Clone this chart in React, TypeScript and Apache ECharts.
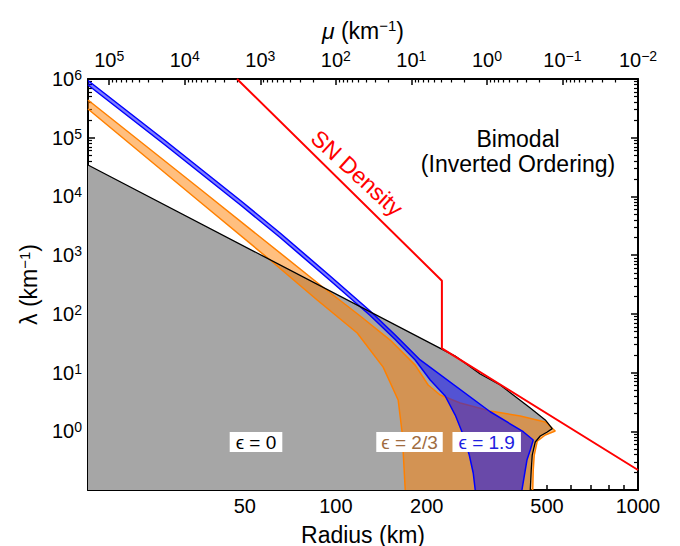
import React, { useEffect, useRef } from "react";
import * as echarts from "echarts";

// Axis ranges
const RADIUS_MIN = 15.13;
const RADIUS_MAX = 1000;
const LAMBDA_MIN = 0.1;
const LAMBDA_MAX = 1e6;
// top axis: mu = 1e10 / r^4 (km^-1), decreasing to the right
const MU_MIN = 0.01;
const MU_MAX = 1.908e5;

// Tick labels
const radiusLabels = [50, 100, 200, 500, 1000];
const radiusTicks = [20, 30, 40, 50, 60, 70, 80, 90, 100, 200, 300, 400, 500, 600, 700, 800, 900, 1000];
const lambdaLabels = [1, 10, 100, 1e3, 1e4, 1e5, 1e6];
const lambdaMajor = [0.1, 1, 10, 100, 1e3, 1e4, 1e5, 1e6];
const muLabels = [1e5, 1e4, 1e3, 100, 10, 1, 0.1, 0.01];

const minorOf = (decades: number[]) => decades.flatMap((d) => [2, 3, 4, 5, 6, 7, 8, 9].map((k) => k * d));
const lambdaMinor = minorOf([0.1, 1, 10, 100, 1e3, 1e4, 1e5]);
const muMinor = minorOf([0.01, 0.1, 1, 10, 100, 1e3, 1e4, 1e5]);

// Boundary of the epsilon = 0 region  [radius km, lambda km^-1]
const eps0Boundary: [number, number][] = [
  [15.13, 3.43e4], [248.4, 19.1], [300.5, 9.45], [349.9, 6.14], [386.5, 4.15],
  [440.0, 2.49], [493.3, 1.56], [520.3, 1.11], [500.9, 0.971], [474.8, 0.83],
  [457.1, 0.657], [446.7, 0.394], [443.3, 0.219], [440.0, 0.1],
];

// epsilon = 2/3 band: upper / outer edge and lower / inner edge
const eps23Upper: [number, number][] = [
  [15.13, 4.39e5], [35.54, 1.34e4], [88.75, 310], [120.4, 91.9], [151.3, 35.8],
  [183.1, 13.4], [202.1, 6.14], [221.5, 4.15], [258.0, 3.03], [324.3, 2.21],
  [407.7, 1.82], [493.3, 1.44], [532.4, 1.01], [493.3, 0.864], [464.1, 0.682],
  [453.6, 0.394], [450.1, 0.219], [448.4, 0.1],
];
const eps23Lower: [number, number][] = [
  [15.13, 3.08e5], [35.54, 8035], [60.61, 826], [86.74, 172], [117.7, 47.2],
  [143.4, 12.4], [160.8, 3.41], [165.8, 0.934], [169.7, 0.1],
];

// epsilon = 1.9 band
const eps19Upper: [number, number][] = [
  [15.13, 9.43e5], [27.22, 8.97e4], [48.58, 8356], [65.4, 2382], [95.75, 441],
  [129.9, 111.8], [157.2, 43.6], [190.2, 16.4], [324.3, 2.15], [417.1, 0.983],
  [450.1, 0.71], [440.0, 0.48], [429.0, 0.324], [413.0, 0.1],
];
const eps19Lower: [number, number][] = [
  [15.13, 7.9e5], [27.22, 7.51e4], [48.58, 7003], [65.4, 1997], [95.75, 369.8],
  [129.9, 93.7], [157.2, 36.5], [183.1, 16.4], [205.3, 7.46], [230.1, 3.99],
  [248.4, 1.89], [264.0, 0.864], [276.4, 0.394], [284.9, 0.195], [289.3, 0.1],
];

// Supernova matter density profile
const snDensity: [number, number][] = [
  [47.1, 1e6], [224.4, 366.8], [224.4, 25.9], [1000, 0.219],
];

const FONT = '"Liberation Sans", Arial, Helvetica, sans-serif';

const powLabel = (v: number) => {
  const e = Math.round(Math.log10(v));
  return `{b|10}{s|${e < 0 ? "\u2212" + -e : e}}`;
};

const richPow = {
  b: { fontSize: 20, lineHeight: 22, fontFamily: FONT, color: "#000" },
  s: { fontSize: 14, lineHeight: 12, verticalAlign: "top", fontFamily: FONT, color: "#000" },
};

const richName = {
  s: { fontSize: 15, lineHeight: 14, verticalAlign: "top", fontFamily: FONT, color: "#000" },
  g: { fontSize: 23, lineHeight: 26, fontFamily: FONT, color: "#000", fontStyle: "italic" },
};

const frameLine = { show: true, onZero: false, lineStyle: { color: "#000", width: 2 } };
const hiddenLine = { show: false, onZero: false };

function polygonSeries(pts: [number, number][], fill: string, z: number) {
  return {
    type: "custom",
    coordinateSystem: "cartesian2d",
    xAxisIndex: 0,
    yAxisIndex: 0,
    silent: true,
    z,
    data: pts,
    encode: { x: 0, y: 1 },
    renderItem: (params: any, api: any) => {
      if (params.dataIndex !== 0) return null;
      const points = pts.map((p) => api.coord(p));
      return { type: "polygon", shape: { points }, style: { fill, stroke: "none" } };
    },
  };
}

function lineSeries(pts: [number, number][], color: string, width: number, z: number) {
  return {
    type: "line",
    xAxisIndex: 0,
    yAxisIndex: 0,
    data: pts,
    showSymbol: false,
    symbol: "none",
    silent: true,
    z,
    lineStyle: { color, width },
  };
}

export default function App() {
  const ref = useRef<HTMLDivElement>(null);

  useEffect(() => {
    if (!ref.current) return;
    const chart = echarts.init(ref.current, null, { renderer: "svg" });

    const grayRegion: [number, number][] = [[RADIUS_MIN, LAMBDA_MIN], ...eps0Boundary];
    const orangeRegion: [number, number][] = [...eps23Upper, ...eps23Lower.slice().reverse()];
    const blueRegion: [number, number][] = [...eps19Upper, ...eps19Lower.slice().reverse()];

    const option: any = {
      animation: false,
      backgroundColor: "#fff",
      grid: { left: 88, right: 42, top: 79, bottom: 56, outerBoundsMode: "none" },
      xAxis: [
        {
          type: "log",
          position: "bottom",
          min: RADIUS_MIN,
          max: RADIUS_MAX,
          name: "Radius (km)",
          nameLocation: "middle",
          nameGap: 33,
          nameTextStyle: { fontSize: 23, color: "#000", fontFamily: FONT },
          axisLine: frameLine,
          axisTick: { show: true, inside: true, length: 5, lineStyle: { color: "#000", width: 1.5 }, customValues: radiusTicks },
          axisLabel: { customValues: radiusLabels, margin: 6, fontSize: 20, color: "#000", fontFamily: FONT, formatter: (v: number) => String(Math.round(v)) },
          splitLine: { show: false },
          minorTick: { show: false },
        },
        {
          type: "log",
          position: "top",
          inverse: true,
          min: MU_MIN,
          max: MU_MAX,
          name: "{g|\u03bc} (km{s|\u22121})",
          nameLocation: "middle",
          nameGap: 35,
          nameTextStyle: { fontSize: 23, color: "#000", fontFamily: FONT, rich: richName },
          axisLine: frameLine,
          axisTick: { show: true, inside: true, length: 6, lineStyle: { color: "#000", width: 1.5 }, customValues: muLabels },
          axisLabel: { customValues: muLabels, margin: 8, formatter: powLabel, rich: richPow },
          splitLine: { show: false },
        },
        {
          type: "log",
          position: "top",
          inverse: true,
          min: MU_MIN,
          max: MU_MAX,
          axisLine: hiddenLine,
          axisTick: { show: true, inside: true, length: 3.5, lineStyle: { color: "#000", width: 1.2 }, customValues: muMinor },
          axisLabel: { show: false },
          splitLine: { show: false },
        },
      ],
      yAxis: [
        {
          type: "log",
          position: "left",
          min: LAMBDA_MIN,
          max: LAMBDA_MAX,
          name: "\u03bb (km{s|\u22121})",
          nameLocation: "middle",
          nameGap: 48,
          nameTextStyle: { fontSize: 23, color: "#000", fontFamily: FONT, rich: richName },
          axisLine: frameLine,
          axisTick: { show: true, inside: true, length: 7, lineStyle: { color: "#000", width: 1.5 }, customValues: lambdaMajor },
          axisLabel: { customValues: lambdaLabels, margin: 6, formatter: powLabel, rich: richPow },
          splitLine: { show: false },
        },
        {
          type: "log",
          position: "left",
          min: LAMBDA_MIN,
          max: LAMBDA_MAX,
          axisLine: hiddenLine,
          axisTick: { show: true, inside: true, length: 4, lineStyle: { color: "#000", width: 1.2 }, customValues: lambdaMinor },
          axisLabel: { show: false },
          splitLine: { show: false },
        },
        {
          type: "log",
          position: "right",
          min: LAMBDA_MIN,
          max: LAMBDA_MAX,
          axisLine: frameLine,
          axisTick: { show: true, inside: true, length: 7, lineStyle: { color: "#000", width: 1.5 }, customValues: lambdaMajor },
          axisLabel: { show: false },
          splitLine: { show: false },
        },
        {
          type: "log",
          position: "right",
          min: LAMBDA_MIN,
          max: LAMBDA_MAX,
          axisLine: hiddenLine,
          axisTick: { show: true, inside: true, length: 4, lineStyle: { color: "#000", width: 1.2 }, customValues: lambdaMinor },
          axisLabel: { show: false },
          splitLine: { show: false },
        },
      ],
      series: [
        polygonSeries(grayRegion, "#a6a6a6", 1),
        polygonSeries(orangeRegion, "rgba(255,128,0,0.5)", 2),
        lineSeries(eps23Upper, "#ff8000", 1.5, 3),
        lineSeries(eps23Lower, "#ff8000", 1.5, 3),
        polygonSeries(blueRegion, "rgba(0,0,255,0.5)", 4),
        lineSeries(eps19Upper, "#0000ff", 1.5, 5),
        lineSeries(eps19Lower, "#0000ff", 1.5, 5),
        lineSeries(eps0Boundary, "#000000", 1.3, 6),
        lineSeries(snDensity, "#ff0000", 2, 7),
      ],
      graphic: [
        {
          type: "text",
          x: 256,
          y: 442,
          z: 100,
          style: { text: "\u03f5 = 0", fill: "#000", fontSize: 19, fontFamily: FONT, align: "center", verticalAlign: "middle", backgroundColor: "#fff", padding: [0, 6], lineHeight: 20 },
        },
        {
          type: "text",
          x: 409.5,
          y: 442,
          z: 100,
          style: { text: "\u03f5 = 2/3", fill: "#a06c40", fontSize: 19, fontFamily: FONT, align: "center", verticalAlign: "middle", backgroundColor: "#fff", padding: [0, 5], lineHeight: 20 },
        },
        {
          type: "text",
          x: 486.7,
          y: 442,
          z: 100,
          style: { text: "\u03f5 = 1.9", fill: "#2020e0", fontSize: 19, fontFamily: FONT, align: "center", verticalAlign: "middle", backgroundColor: "#fff", padding: [0, 6], lineHeight: 20 },
        },
        {
          type: "text",
          x: 357,
          y: 173,
          rotation: -0.74,
          z: 100,
          style: { text: "SN Density", fill: "#ff0000", fontSize: 23, fontFamily: FONT, align: "center", verticalAlign: "middle" },
        },
        {
          type: "text",
          x: 518,
          y: 151,
          z: 100,
          style: { text: "Bimodal\n(Inverted Ordering)", fill: "#000", fontSize: 23, fontFamily: FONT, align: "center", verticalAlign: "middle", lineHeight: 25 },
        },
      ],
    };

    chart.setOption(option);
    return () => chart.dispose();
  }, []);

  return (
    <div
      ref={ref}
      style={{ position: "fixed", left: 0, top: 0, width: 680, height: 546, background: "#fff" }}
    />
  );
}
